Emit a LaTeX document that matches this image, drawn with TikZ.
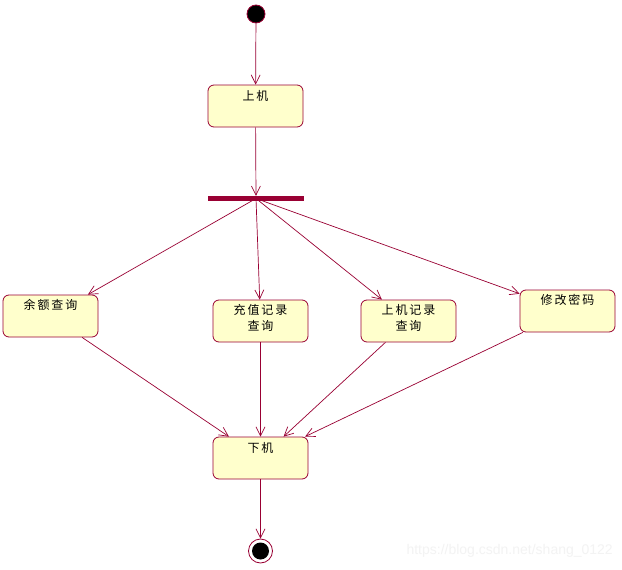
\documentclass[tikz,border=0pt]{standalone}
\usepackage{fontspec}
\newfontfamily\cjk{Noto Sans CJK SC}
\newfontfamily\wm{Liberation Sans}
\usetikzlibrary{arrows.meta,calc}
\definecolor{umlred}{RGB}{153,0,51}
\definecolor{umlfill}{RGB}{255,255,204}
\definecolor{wmgray}{RGB}{243,243,243}
\tikzset{
  actbox/.style={draw=umlred, fill=umlfill, line width=0.8pt, rounded corners=6pt,
    minimum width=95pt, minimum height=42pt, inner sep=0pt},
  acttext/.style={inner sep=0pt, align=center, font=\cjk\fontsize{12}{16}\selectfont\addfontfeature{LetterSpace=16}},
  flow/.style={draw=umlred, line width=0.7pt, -{Straight Barb[length=9pt,width=9pt,line width=0.7pt]}},
}
\begin{document}
\begin{tikzpicture}[x=1pt,y=1pt]
\useasboundingbox[fill=white] (0,0) rectangle (622,-570);
% start
\node[circle, fill=black, draw=umlred, line width=0.8pt, minimum size=18pt, inner sep=0pt] (start) at (256,-14) {};
% boxes
\node[actbox] (shangji) at (255.5,-106) {};
\node[acttext] (tshangji) at ($(shangji.north)+(0,-11)$) {上机};
\node[fill=umlred, minimum width=96pt, minimum height=5pt, inner sep=0pt] (bar) at (256,-198.5) {};
\node[actbox] (yue) at (50.5,-316) {};
\node[acttext] (tyue) at ($(yue.north)+(0,-10)$) {余额查询};
\node[actbox] (chong) at (260.5,-321) {};
\node[acttext] (tchong) at ($(chong.north)+(0,-18)$) {充值记录\\查询};
\node[actbox] (jilu) at (408.5,-321) {};
\node[acttext] (tjilu) at ($(jilu.north)+(0,-18)$) {上机记录\\查询};
\node[actbox] (mima) at (567.5,-311) {};
\node[acttext] (tmima) at ($(mima.north)+(0,-10)$) {修改密码};
\node[actbox] (xiaji) at (260.5,-458) {};
\node[acttext] (txiaji) at ($(xiaji.north)+(0,-11)$) {下机};
% end
\node[circle, draw=umlred, fill=white, line width=0.8pt, minimum size=24pt, inner sep=0pt] (end) at (260.5,-551) {};
\node[circle, fill=black, minimum size=17pt, inner sep=0pt] (endin) at (end.center) {};
% connectors
\draw[flow] (start) -- (shangji);
\draw[flow] (shangji) -- (bar);
\draw[flow] (bar.center) -- (yue);
\draw[flow] (bar.center) -- (chong);
\draw[flow] (bar.center) -- (jilu);
\draw[flow] (bar.center) -- (mima);
\draw[flow] (yue) -- (xiaji);
\draw[flow] (chong) -- (xiaji);
\draw[flow] (jilu) -- (xiaji);
\draw[flow] (mima) -- (xiaji);
\draw[flow] (xiaji) -- (end);
% watermark
\node[anchor=east, inner sep=0pt, text=wmgray, font=\wm\fontsize{14}{16}\selectfont] (wmark) at (613,-551) {https://blog.csdn.net/shang\_0122};
\end{tikzpicture}
\end{document}
